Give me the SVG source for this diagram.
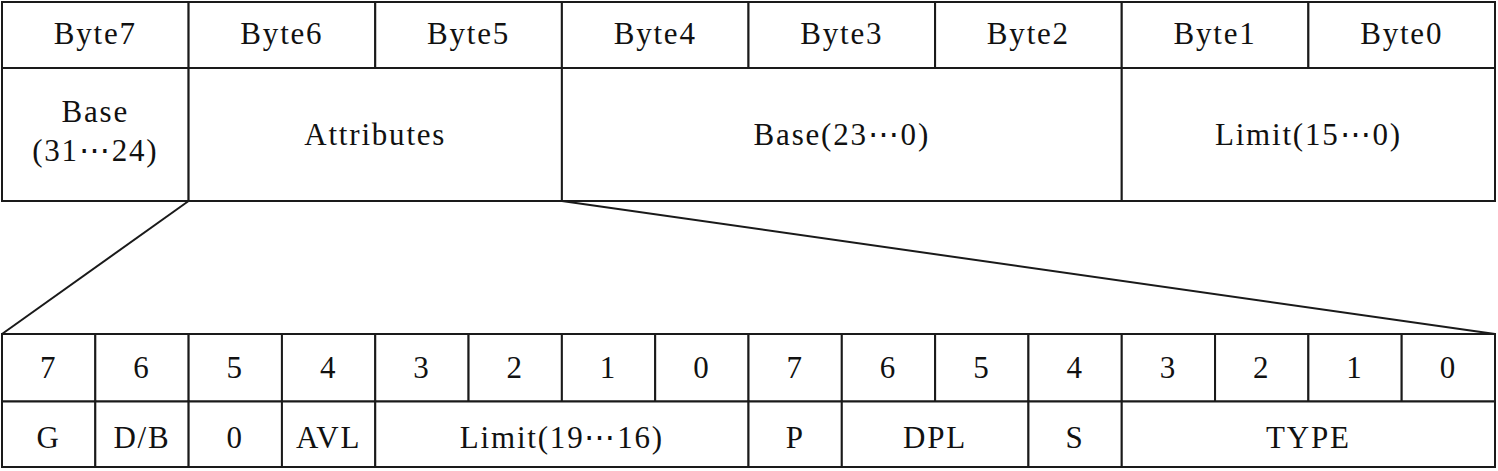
<svg xmlns="http://www.w3.org/2000/svg" width="1498" height="471" viewBox="0 0 1498 471" font-family="'Liberation Serif', 'DejaVu Serif', serif">
<style>
rect{fill:#fff;stroke:#1a1a1a;stroke-width:2}
text{font-family:'Liberation Serif','DejaVu Serif',serif;font-size:31px;letter-spacing:1.8px;fill:#111;text-anchor:middle}
line{stroke:#1a1a1a;stroke-width:2}
</style>
<rect x="0" y="0" width="1498" height="471" style="stroke:none"/>
<g id="connectors">
<line x1="188.6" y1="201" x2="2" y2="334"/>
<line x1="561.9" y1="201" x2="1495" y2="334"/>
</g>
<g id="descriptor">
<g id="byte7"><rect x="2" y="2" width="186.6" height="66"/><text x="95.3" y="43.5">Byte7</text></g>
<g id="byte6"><rect x="188.6" y="2" width="186.6" height="66"/><text x="281.9" y="43.5">Byte6</text></g>
<g id="byte5"><rect x="375.25" y="2" width="186.6" height="66"/><text x="468.6" y="43.5">Byte5</text></g>
<g id="byte4"><rect x="561.9" y="2" width="186.6" height="66"/><text x="655.2" y="43.5">Byte4</text></g>
<g id="byte3"><rect x="748.5" y="2" width="186.6" height="66"/><text x="841.8" y="43.5">Byte3</text></g>
<g id="byte2"><rect x="935.1" y="2" width="186.6" height="66"/><text x="1028.4" y="43.5">Byte2</text></g>
<g id="byte1"><rect x="1121.75" y="2" width="186.6" height="66"/><text x="1215.1" y="43.5">Byte1</text></g>
<g id="byte0"><rect x="1308.4" y="2" width="186.6" height="66"/><text x="1401.7" y="43.5">Byte0</text></g>
<g id="base-hi"><rect x="2" y="68" width="186.6" height="133"/><text x="95.3" y="121.5">Base</text><text x="95.3" y="161">(31⋯24)</text></g>
<g id="attributes"><rect x="188.6" y="68" width="373.3" height="133"/><text x="375.25" y="145">Attributes</text></g>
<g id="base-lo"><rect x="561.9" y="68" width="559.85" height="133"/><text x="841.8" y="145">Base(23⋯0)</text></g>
<g id="limit-lo"><rect x="1121.75" y="68" width="373.25" height="133"/><text x="1308.4" y="145">Limit(15⋯0)</text></g>
</g>
<g id="attr-detail">
<g id="b15"><rect x="2" y="334" width="93.31" height="67.5"/><text x="48.66" y="378">7</text></g>
<g id="b14"><rect x="95.31" y="334" width="93.31" height="67.5"/><text x="141.97" y="378">6</text></g>
<g id="b13"><rect x="188.63" y="334" width="93.31" height="67.5"/><text x="235.28" y="378">5</text></g>
<g id="b12"><rect x="281.94" y="334" width="93.31" height="67.5"/><text x="328.59" y="378">4</text></g>
<g id="b11"><rect x="375.25" y="334" width="93.31" height="67.5"/><text x="421.9" y="378">3</text></g>
<g id="b10"><rect x="468.56" y="334" width="93.31" height="67.5"/><text x="515.2" y="378">2</text></g>
<g id="b9"><rect x="561.88" y="334" width="93.31" height="67.5"/><text x="608.5" y="378">1</text></g>
<g id="b8"><rect x="655.19" y="334" width="93.31" height="67.5"/><text x="701.8" y="378">0</text></g>
<g id="b7"><rect x="748.5" y="334" width="93.31" height="67.5"/><text x="795.2" y="378">7</text></g>
<g id="b6"><rect x="841.81" y="334" width="93.31" height="67.5"/><text x="888.5" y="378">6</text></g>
<g id="b5"><rect x="935.13" y="334" width="93.31" height="67.5"/><text x="981.8" y="378">5</text></g>
<g id="b4"><rect x="1028.44" y="334" width="93.31" height="67.5"/><text x="1075.1" y="378">4</text></g>
<g id="b3"><rect x="1121.75" y="334" width="93.31" height="67.5"/><text x="1168.4" y="378">3</text></g>
<g id="b2"><rect x="1215.06" y="334" width="93.31" height="67.5"/><text x="1261.7" y="378">2</text></g>
<g id="b1"><rect x="1308.38" y="334" width="93.31" height="67.5"/><text x="1355" y="378">1</text></g>
<g id="b0"><rect x="1401.69" y="334" width="93.31" height="67.5"/><text x="1448.3" y="378">0</text></g>
<g id="f-g"><rect x="2" y="401.5" width="93.31" height="65.5"/><text x="48.66" y="448">G</text></g>
<g id="f-db"><rect x="95.31" y="401.5" width="93.31" height="65.5"/><text x="141.97" y="448">D/B</text></g>
<g id="f-0"><rect x="188.63" y="401.5" width="93.31" height="65.5"/><text x="235.28" y="448">0</text></g>
<g id="f-avl"><rect x="281.94" y="401.5" width="93.31" height="65.5"/><text x="328.59" y="448">AVL</text></g>
<g id="f-limit"><rect x="375.25" y="401.5" width="373.25" height="65.5"/><text x="561.9" y="448">Limit(19⋯16)</text></g>
<g id="f-p"><rect x="748.5" y="401.5" width="93.31" height="65.5"/><text x="795.2" y="448">P</text></g>
<g id="f-dpl"><rect x="841.81" y="401.5" width="186.63" height="65.5"/><text x="935.1" y="448">DPL</text></g>
<g id="f-s"><rect x="1028.44" y="401.5" width="93.31" height="65.5"/><text x="1075.1" y="448">S</text></g>
<g id="f-type"><rect x="1121.75" y="401.5" width="373.25" height="65.5"/><text x="1308.4" y="448">TYPE</text></g>
</g>
</svg>
